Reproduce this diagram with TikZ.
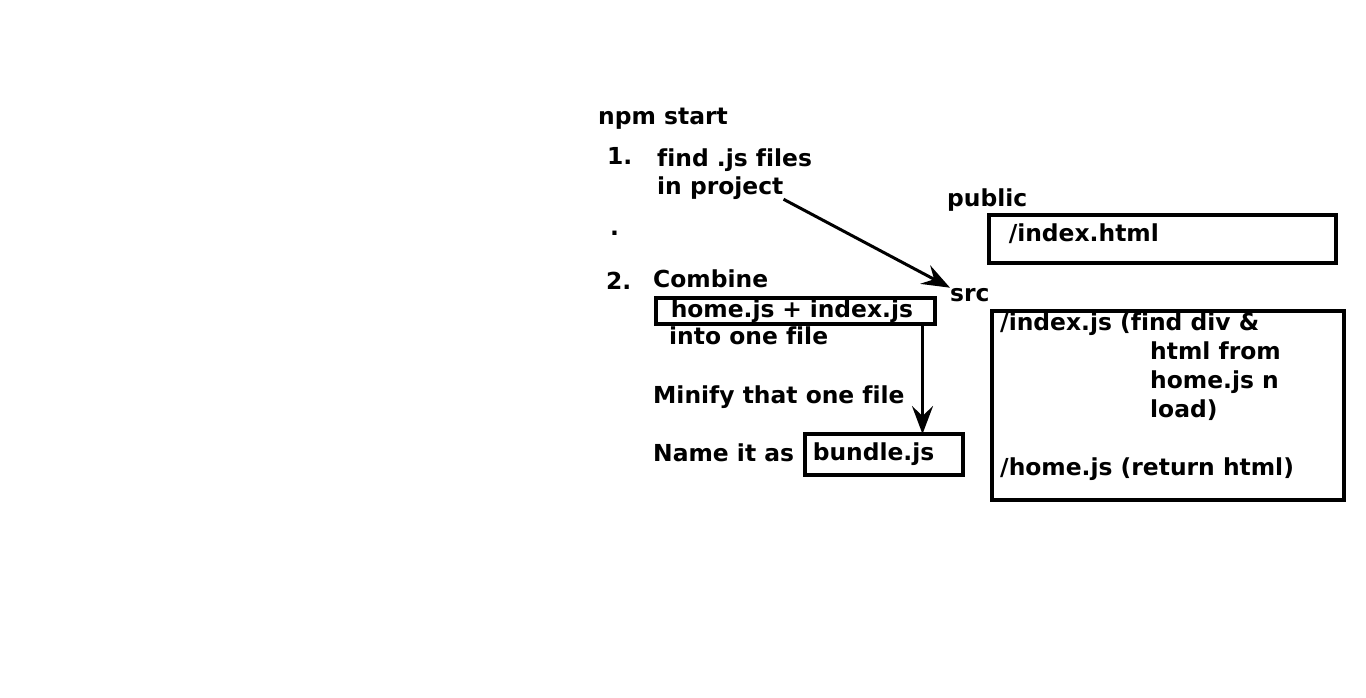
\documentclass[tikz,border=0pt]{standalone}
\usepackage{fontspec}
\setmainfont{DejaVu Sans}[Ligatures=NoCommon]
\usetikzlibrary{arrows.meta,positioning}
\tikzset{every picture/.style={
  >={Stealth[length=28pt,width=21pt,inset=10pt]} % big sharp heads.
  }
}
\tikzset{
  txt/.style={anchor=base west, inner sep=0pt,
    font=\bfseries\fontsize{23.4}{29}\selectfont},
  filebox/.style={draw, line width=3.5pt, anchor=north west, inner ysep=0pt,
    align=left, font=\bfseries\fontsize{23.4}{29}\selectfont},
  link/.style={->, line width=3pt}
}

\begin{document}
\begin{tikzpicture}[x=1pt,y=-1pt]
  \useasboundingbox (0,0) rectangle (1366,697);
  % the steps on the left
  \node[txt] (npm)  at (598,124) {npm start};
  \node[txt] (one)  at (607,164) {1.};
  \node[txt] (find) at (657,166) {find .js files};
  \node[txt] (proj) at (657,194) {in project};
  \node[txt] (dot)  at (610,235) {.};
  \node[txt] (two)  at (606,289) {2.};
  \node[txt] (comb) at (653,287) {Combine};
  \node[filebox, inner xsep=15pt, text width=249pt, minimum height=26pt]
    (hibox) at (654,296) {home.js + index.js};
  \node[txt] (into) at (669,344) {into one file};
  \node[txt] (mini) at (653,403) {Minify that one file};
  \node[txt] (name) at (653,461) {Name it as};
  \node[filebox, inner xsep=8pt, text width=142pt, minimum height=41pt]
    (bundle) at (803,432) {bundle.js};
  % the project folders on the right
  \node[txt] (public) at (947,206) {public};
  \node[filebox, inner xsep=20pt, text width=307pt, minimum height=48pt,
    text height=13pt, text depth=7pt] (html) at (987,213) {/index.html};
  \node[txt] (src) at (950,301) {src};
  \node[filebox, minimum width=352pt, minimum height=189pt]
    (srcbox) at (990,309) {};
  \node[txt, anchor=north west, align=left] (srctxt)
    at ([xshift=10pt,yshift=-4pt]srcbox.north west) {/index.js (find div \&\\
      \hspace*{150pt}html from\\
      \hspace*{150pt}home.js n\\
      \hspace*{150pt}load)\\[29pt]
      /home.js (return html)};
  % arrows
  \draw[link] (proj.south east) -- (src.north west);
  \coordinate (cut) at ([xshift=-14pt]hibox.south east);
  \draw[link] (cut) -- ([yshift=-2pt]cut |- bundle.north);
\end{tikzpicture}
\end{document}
